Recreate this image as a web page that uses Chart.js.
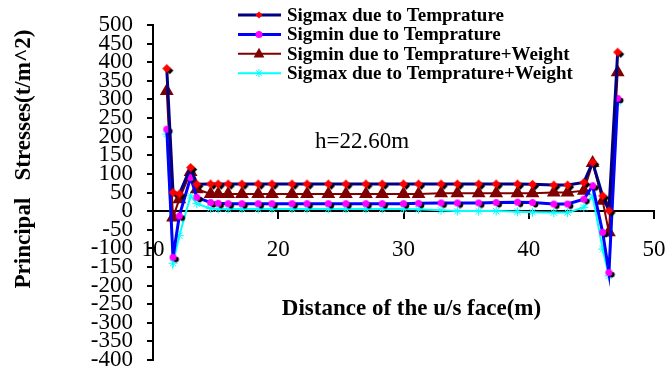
<!DOCTYPE html>
<html>
<head>
<meta charset="utf-8">
<script src="https://cdn.jsdelivr.net/npm/chart.js@4.4.1/dist/chart.umd.min.js"></script>
<style>
  body { margin: 0; background: #fff; }
  #wrap { width: 665px; height: 371px; position: relative; }
</style>
</head>
<body>
<div id="wrap"><canvas id="stressChart"></canvas></div>
<script>
// distance of the u/s face (m)
const distance = [11.1, 11.6, 12.1, 13.0, 13.5, 14.6, 15.2, 16.0, 17.1, 18.4, 19.5, 21.1, 22.3, 24.0, 25.4, 27.0,
  28.3, 30.0, 31.2, 33.0, 34.3, 36.0, 37.4, 39.1, 40.3, 42.0, 43.1, 44.4, 45.1, 45.9, 46.4, 47.1];

// principal stresses (t/m^2)
const sigmaxTemp = [383, 50, 46, 117, 72, 73, 73, 73, 73, 73, 73, 73, 73, 73, 73, 73,
  73, 73, 73, 73, 73, 73, 73, 73, 72, 70, 70, 77, 131, 41, 1, 427];
const sigminTemp = [220, -124, -13, 90, 37, 23, 21, 20, 20, 20, 20, 20, 20, 20, 20, 20,
  20, 20, 21, 22, 22, 22, 23, 24, 23, 19, 19, 32, 68, -57, -165, 303];
const sigminTempWeight = [323, -17, 32, 105, 59, 46, 46, 46, 46, 46, 46, 46, 46, 46, 46, 46,
  46, 46, 46, 48, 48, 48, 48, 48, 48, 50, 50, 55, 129, 28, -57, 373];
const sigmaxTempWeight = [207, -140, -66, 41, 20, 7, 6, 6, 6, 6, 6, 6, 6, 6, 6, 6,
  6, 6, 5, 2, 0, 0, 0, -2, -3, -4, -4, 10, 41, -102, -174, 292];

const seriesNames = ['Sigmax due to Temprature', 'Sigmin due to Temprature',
  'Sigmin due to Temprature+Weight', 'Sigmax due to Temprature+Weight'];

const serif = '"Liberation Serif", "Times New Roman", serif';

function shapePath(g, shape, x, y, r) {
  g.beginPath();
  if (shape === 'diamond') {
    g.moveTo(x, y - r); g.lineTo(x + r, y); g.lineTo(x, y + r); g.lineTo(x - r, y); g.closePath();
  } else if (shape === 'circle') {
    g.arc(x, y, r, 0, Math.PI * 2);
  } else if (shape === 'triangle') {
    g.moveTo(x, y - r); g.lineTo(x + r * 0.9, y + r * 0.6); g.lineTo(x - r * 0.9, y + r * 0.6); g.closePath();
  }
}

// marker with a small black drop shadow like the original
function markerImage(shape, color, r) {
  const off = 3;
  const s = Math.ceil(2 * (r + off) + 2);
  const c = document.createElement('canvas');
  c.width = s; c.height = s;
  const g = c.getContext('2d');
  const m = s / 2;
  g.fillStyle = '#000';
  shapePath(g, shape, m + off, m + off * 0.7, r * 0.8); g.fill();
  g.fillStyle = color;
  shapePath(g, shape, m, m, r); g.fill();
  return c;
}

const toPoints = vals => vals.map((v, i) => ({ x: distance[i], y: v }));

const textPlugin = {
  id: 'textPlugin',
  afterDraw(chart) {
    const ctx = chart.ctx;
    const area = chart.chartArea;
    const xs = chart.scales.x, ys = chart.scales.y;
    ctx.save();
    ctx.fillStyle = '#000';

    // y axis title
    ctx.save();
    ctx.translate(24, 159);
    ctx.rotate(-Math.PI / 2);
    ctx.font = 'bold 23px ' + serif;
    ctx.textAlign = 'center';
    ctx.textBaseline = 'middle';
    ctx.fillText('Principal   Stresses(t/m^2)', 0, 0);
    ctx.restore();

    // x axis title
    ctx.font = 'bold 23px ' + serif;
    ctx.textAlign = 'center';
    ctx.textBaseline = 'middle';
    ctx.fillText('Distance of the u/s face(m)', (area.left + area.right) / 2 + 8, 309);

    // section label
    ctx.font = '23px ' + serif;
    ctx.fillText('h=22.60m', xs.getPixelForValue(26.7), ys.getPixelForValue(185));

    // legend
    ctx.font = 'bold 19px ' + serif;
    ctx.textAlign = 'left';
    chart.data.datasets.forEach((ds, i) => {
      const y = 15 + i * 19.4;
      ctx.strokeStyle = ds.borderColor;
      ctx.lineWidth = ds.borderWidth;
      ctx.beginPath(); ctx.moveTo(238, y); ctx.lineTo(281, y); ctx.stroke();
      ctx.fillStyle = ds.legendMarkColor;
      ctx.strokeStyle = ds.legendMarkColor;
      if (ds.legendShape === 'star') {
        ctx.lineWidth = 1;
        ctx.beginPath();
        ctx.moveTo(256, y - 3); ctx.lineTo(262, y + 3);
        ctx.moveTo(262, y - 3); ctx.lineTo(256, y + 3);
        ctx.moveTo(259, y - 4); ctx.lineTo(259, y + 4);
        ctx.stroke();
      } else {
        shapePath(ctx, ds.legendShape, 259, y, ds.legendShape === 'triangle' ? 6 : 3.5);
        ctx.fill();
      }
      ctx.fillStyle = '#000';
      ctx.fillText(ds.label, 287, y + 1);
    });
    ctx.restore();
  }
};

new Chart(document.getElementById('stressChart'), {
  type: 'line',
  data: {
    datasets: [{
      label: seriesNames[0],
      data: toPoints(sigmaxTemp),
      borderColor: '#000080',
      borderWidth: 3,
      pointStyle: markerImage('diamond', '#ff0000', 4.5),
      legendShape: 'diamond',
      legendMarkColor: '#ff0000'
    }, {
      label: seriesNames[1],
      data: toPoints(sigminTemp),
      borderColor: '#0000ff',
      borderWidth: 3,
      pointStyle: markerImage('circle', '#ff00ff', 3.5),
      legendShape: 'circle',
      legendMarkColor: '#ff00ff'
    }, {
      label: seriesNames[2],
      data: toPoints(sigminTempWeight),
      borderColor: '#800000',
      borderWidth: 2,
      pointStyle: 'triangle',
      pointRadius: 6,
      pointBackgroundColor: '#800000',
      pointBorderColor: '#800000',
      legendShape: 'triangle',
      legendMarkColor: '#800000'
    }, {
      label: seriesNames[3],
      data: toPoints(sigmaxTempWeight),
      borderColor: '#00ffff',
      borderWidth: 2,
      pointStyle: 'star',
      pointRadius: 4.5,
      pointBorderWidth: 1,
      pointBackgroundColor: '#00ffff',
      pointBorderColor: '#00ffff',
      legendShape: 'star',
      legendMarkColor: '#00ffff'
    }]
  },
  options: {
    responsive: true,
    maintainAspectRatio: false,
    animation: false,
    layout: { padding: { top: 25, right: 11, bottom: 11, left: 0 } },
    plugins: { legend: { display: false }, tooltip: { enabled: false } },
    scales: {
      x: {
        type: 'linear',
        position: { y: 0 },
        min: 10,
        max: 50,
        afterFit: scale => { scale.height = 0; scale.paddingLeft = 0; scale.paddingRight = 0; },
        grid: { drawOnChartArea: false, color: '#000', lineWidth: 2, tickLength: 7 },
        border: { color: '#000', width: 2 },
        ticks: { stepSize: 10, color: '#000', padding: 18, font: { family: serif, size: 23 } }
      },
      y: {
        min: -400,
        max: 500,
        afterFit: scale => { scale.width = 153; scale.paddingTop = 0; scale.paddingBottom = 0; },
        grid: { drawOnChartArea: false, color: '#000', lineWidth: 2, tickLength: 6 },
        border: { color: '#000', width: 2 },
        ticks: { stepSize: 50, autoSkip: false, color: '#000', padding: 14, font: { family: serif, size: 23 } }
      }
    }
  },
  plugins: [textPlugin]
});
</script>
</body>
</html>
